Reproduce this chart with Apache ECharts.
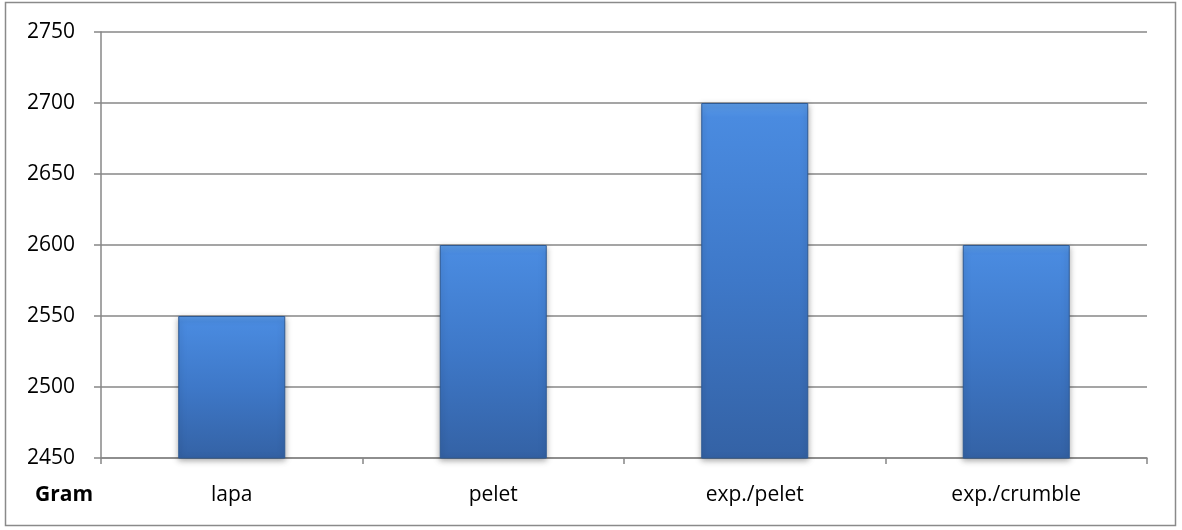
<!DOCTYPE html>
<html>
<head>
<meta charset="utf-8">
<script src="https://cdn.jsdelivr.net/npm/echarts@6/dist/echarts.min.js"></script>
<style>
  html, body { margin: 0; padding: 0; background: #fff; }
  #chart { width: 1182px; height: 530px; }
</style>
</head>
<body>
<div id="chart"></div>
<script>
// data
const categories = ['lapa', 'pelet', 'exp./pelet', 'exp./crumble']
const grams = [2550, 2600, 2700, 2600]
const yMin = 2450
const yMax = 2750
const yStep = 50

const font = '"Open Sans", sans-serif'
const gridColor = '#878787'

const chart = echarts.init(document.getElementById('chart'))

chart.setOption({
  animation: false,
  backgroundColor: '#fff',
  grid: { left: 101, right: 35, top: 32, bottom: 72 },
  graphic: [
    {
      type: 'rect',
      shape: { x: 5.5, y: 2.5, width: 1170, height: 523 },
      style: { fill: 'none', stroke: '#8a8a8a', lineWidth: 1.5 },
      silent: true
    },
    {
      type: 'text',
      left: 35,
      top: 485,
      style: { text: 'Gram', font: 'bold 21px ' + font, fill: '#000' }
    }
  ],
  xAxis: {
    type: 'category',
    data: categories,
    axisLine: { lineStyle: { color: gridColor, width: 1.5 } },
    axisTick: { show: true, length: 6, lineStyle: { color: gridColor, width: 1.5 } },
    axisLabel: { color: '#000', fontSize: 21, fontFamily: font, margin: 27 }
  },
  yAxis: {
    type: 'value',
    min: yMin,
    max: yMax,
    interval: yStep,
    axisLine: { show: true, lineStyle: { color: gridColor, width: 1.5 } },
    axisTick: { show: true, length: 7, lineStyle: { color: gridColor, width: 1.5 } },
    axisLabel: {
      color: '#000', fontSize: 21, fontFamily: font, margin: 26,
      formatter: v => String(v)
    },
    splitLine: { lineStyle: { color: gridColor, width: 1.5 } }
  },
  series: [
    {
      type: 'bar',
      data: grams,
      barWidth: 107,
      itemStyle: {
        color: new echarts.graphic.LinearGradient(0, 0, 0, 1, [
          { offset: 0, color: '#5a9ae6' },
          { offset: 0.04, color: '#4a8be0' },
          { offset: 0.5, color: '#3e78c8' },
          { offset: 1, color: '#3462a5' }
        ]),
        borderColor: '#2e5a94',
        borderWidth: 1,
        shadowColor: 'rgba(0,0,0,0.35)',
        shadowBlur: 6,
        shadowOffsetY: 2
      }
    }
  ]
})
</script>
</body>
</html>
